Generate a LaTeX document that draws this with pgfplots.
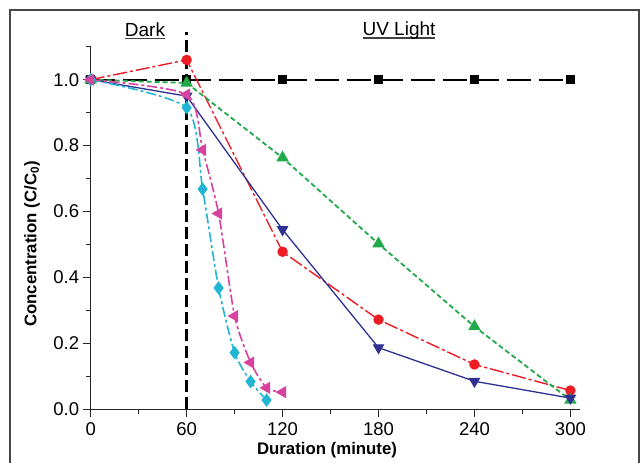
\documentclass[border=0pt]{standalone}
\usepackage{pgfplots}
\pgfplotsset{compat=1.18}
\usepackage{fontspec}
\setmainfont{Liberation Sans}
\definecolor{cred}{HTML}{ED1C24}
\definecolor{cgreen}{HTML}{22A94A}
\definecolor{cnavy}{HTML}{2E3192}
\definecolor{cmag}{HTML}{D9419E}
\definecolor{ccyan}{HTML}{21B5D3}
\newcommand\ulbox[1]{\setbox0\hbox{#1}\rlap{\textcolor{black!75}{\rule[-2.8pt]{\wd0}{1.3pt}}}\box0}
\begin{document}
\begin{tikzpicture}[x=1pt,y=1pt]
\draw[line width=2pt, color=black!72] (-80.7,-70) -- (-80.7,399.3) -- (548.3,399.3) -- (548.3,-70);
\begin{axis}[
  at={(0pt,0pt)}, anchor=south west,
  width=489.3pt, height=362.6pt, scale only axis,
  xmin=0, xmax=306, ymin=0, ymax=1.1,
  axis x line*=bottom, axis y line*=left,
  axis line style={line width=1.4pt, black!85, -},
  xtick={0,60,120,180,240,300}, minor xtick={30,90,150,210,270},
  ytick={0,0.2,0.4,0.6,0.8,1.0}, minor ytick={0.1,0.3,0.5,0.7,0.9,1.1},
  tick align=outside, major tick length=8pt, minor tick length=5pt,
  every tick/.style={line width=1.3pt, black!85},
  yticklabel style={/pgf/number format/.cd, fixed, fixed zerofill, precision=1},
  /pgf/number format/assume math mode=true,
  ticklabel style={font=\fontsize{18.5}{21}\selectfont},
  xticklabel style={yshift=-2pt},
  clip=false,
]
\addplot[black, line width=2.2pt, dash pattern=on 24pt off 8pt, mark=square*, mark size=3.5pt, mark options={solid}]
  coordinates {(0,1)(60,1)(120,1)(180,1)(240,1)(300,1)};
\addplot[cred, line width=1.4pt, dash pattern=on 14pt off 3pt on 3pt off 3pt, mark=*, mark size=4.5pt, mark options={solid}]
  coordinates {(0,1)(60,1.06)(120,0.478)(180,0.272)(240,0.136)(300,0.057)};
\addplot[cgreen, line width=1.8pt, dash pattern=on 5pt off 3pt, mark=triangle*, mark size=5.5pt, mark options={solid}]
  coordinates {(0,1)(60,0.99)(120,0.763)(180,0.502)(240,0.251)(300,0.028)};
\addplot[cnavy, line width=1.3pt, mark=triangle*, mark size=5.5pt, mark options={solid, rotate=180}]
  coordinates {(0,1)(60,0.95)(120,0.545)(180,0.187)(240,0.085)(300,0.034)};
\addplot[ccyan, line width=1.6pt, smooth, tension=0.4, dash pattern=on 10pt off 3pt on 3pt off 3pt, mark=diamond*, mark size=5.5pt, mark options={solid}]
  coordinates {(0,1)(60,0.915)(70,0.668)(80,0.368)(90,0.172)(100,0.084)(110,0.028)};
\addplot[cmag, line width=1.6pt, smooth, tension=0.4, dash pattern=on 10pt off 3pt on 3pt off 3pt, mark=triangle*, mark size=5.5pt, mark options={solid, rotate=90}]
  coordinates {(0,1)(60,0.955)(70,0.787)(80,0.594)(90,0.283)(100,0.142)(110,0.065)(120,0.052)};
\addplot[black, line width=3pt, dash pattern=on 12pt off 5pt, no marks]
  coordinates {(60,0)(60,1.145)};
\end{axis}
\node[font=\fontsize{19}{22}\selectfont] at (54.3,378.5) {\ulbox{Dark}};
\node[font=\fontsize{19}{22}\selectfont] at (308.3,378.5) {\ulbox{UV Light}};
\node[font=\bfseries\fontsize{16.8}{19}\selectfont] at (236.3,-40.5) {Duration (minute)};
\node[font=\bfseries\fontsize{16.8}{19}\selectfont, rotate=90] at (-58.7,165.3) {Concentration (C/C\textsubscript{0})};
\pgfresetboundingbox
\useasboundingbox (-90.7,-53.7) rectangle (549.3,409.3);
\end{tikzpicture}
\end{document}
